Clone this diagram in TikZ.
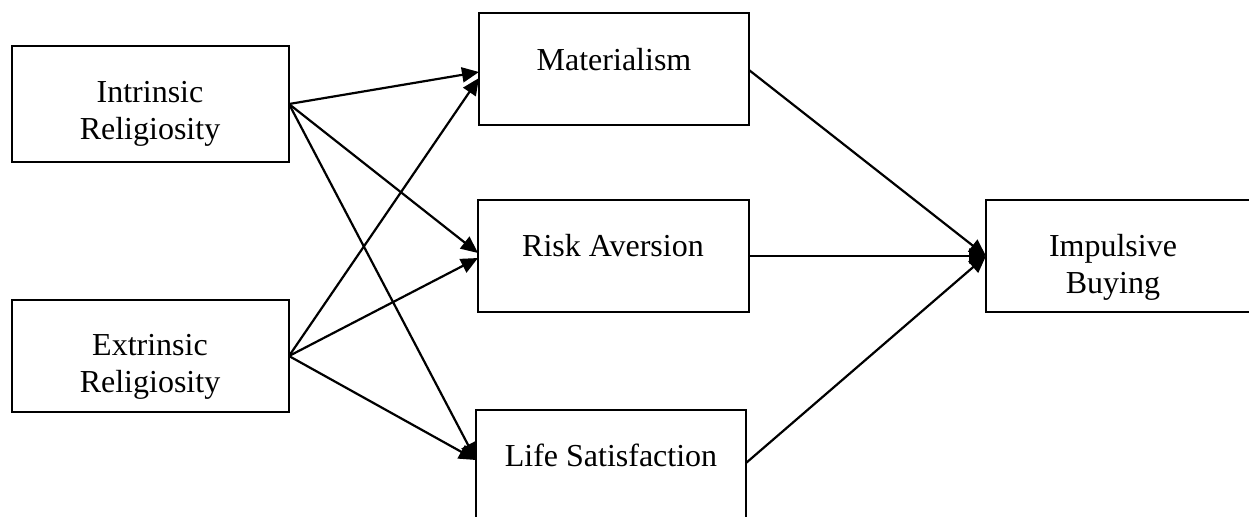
\documentclass[tikz,border=0pt]{standalone}
\usepackage{fontspec}
\setmainfont{Liberation Serif}
\usetikzlibrary{arrows.meta,calc}
\begin{document}
\begin{tikzpicture}[x=0.5pt,y=-0.5pt,
  box/.style={draw,line width=1.3pt,minimum width=#1,inner sep=0pt,outer sep=0pt},
  lbl/.style={font=\fontsize{16}{18.5}\selectfont,align=center,inner sep=0pt},
  conn/.style={line width=1.1pt,-{Triangle[length=8.5pt,width=7.5pt]}}]
\clip (0,0) rectangle (1249,516);
\useasboundingbox (0,0) rectangle (1249,516);
% boxes
\node[box=138.5pt,minimum height=58pt] (in) at (150.5,104) {};
\node[box=138.5pt,minimum height=56pt] (ex) at (150.5,356) {};
\node[box=135pt,minimum height=56pt] (mat) at (614,69) {};
\node[box=135.5pt,minimum height=56pt] (ra) at (613.5,256) {};
\node[box=135pt,minimum height=60pt] (ls) at (611,470) {};
\node[box=140pt,minimum height=56pt] (ib) at (1126,256) {};
% texts
\node[lbl] (inT) at (150,114) {Intrinsic\\Religiosity};
\node[lbl] (exT) at (150,367) {Extrinsic\\Religiosity};
\node[lbl] (matT) at (614,60) {Materialism};
\node[lbl] (raT) at (613,246) {Risk Aversion};
\node[lbl] (lsT) at (611,455) {Life Satisfaction};
\node[lbl] (ibT) at (1113,267) {Impulsive\\Buying};
% connectors
\draw[conn] (in.east) -- ($(mat.west)+(0,3)$);
\draw[conn] (in.east) -- ($(ra.west)+(0,-3)$);
\draw[conn] (in.east) -- ($(ls.west)+(0,-10)$);
\draw[conn] (ex.east) -- ($(mat.west)+(0,9)$);
\draw[conn] (ex.east) -- ($(ra.west)+(0,2)$);
\draw[conn] (ex.east) -- ($(ls.west)+(0,-10)$);
\draw[conn] ($(mat.east)+(0,1)$) -- (ib.west);
\draw[conn] (ra.east) -- (ib.west);
\draw[conn] ($(ls.east)+(0,-7)$) -- (ib.west);
\end{tikzpicture}
\end{document}
